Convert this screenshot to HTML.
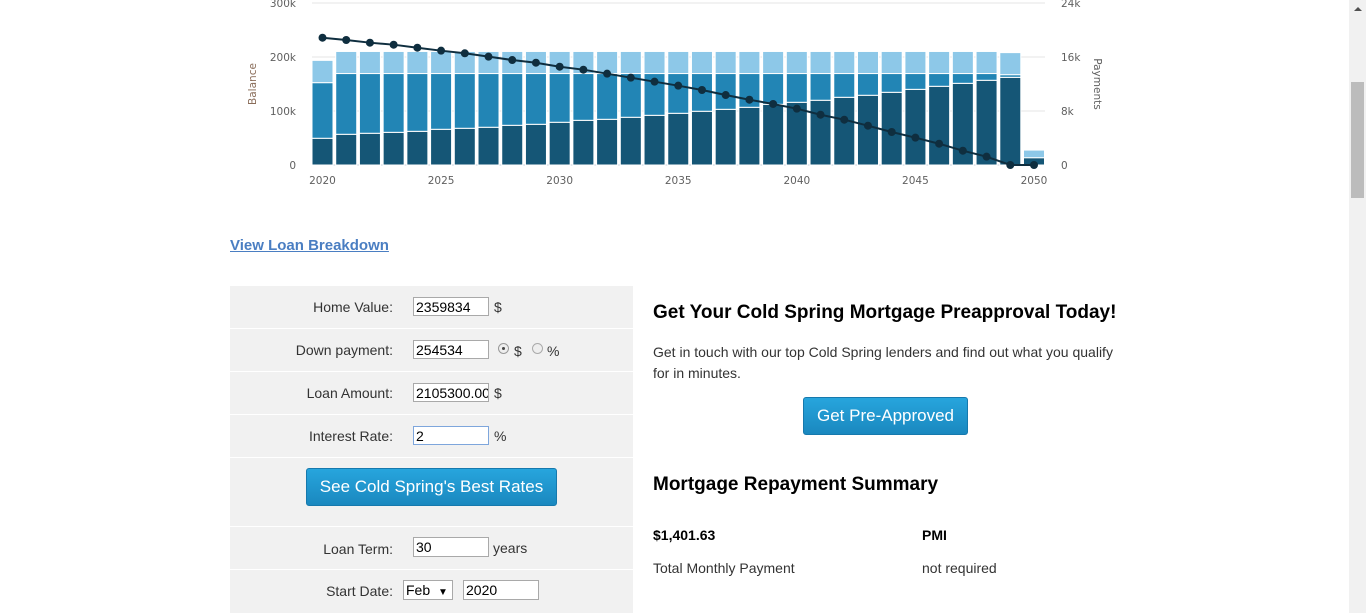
<!DOCTYPE html>
<html><head><meta charset="utf-8"><style>
body{margin:0;width:1366px;height:613px;overflow:hidden;background:#fff;font-family:"Liberation Sans",Arial,sans-serif;position:relative}
.a{position:absolute}
.lbl{position:absolute;right:240px;font-size:14px;color:#333;text-align:right;white-space:nowrap}
.row{position:absolute;left:0;width:403px;background:#f1f1f1}
.inp{position:absolute;height:19px;border:1px solid #a9a9a9;background:#fff;font-size:14px;line-height:19px;padding-left:2px;box-sizing:border-box;color:#000;font-family:"Liberation Sans",sans-serif}
.btn{position:absolute;background:linear-gradient(#27a5dd,#1a88bf);border:1px solid #1679ad;border-radius:3px;color:#fff;font-size:17px;text-align:center;box-sizing:border-box}
.t{font-size:14px;color:#333;position:absolute;white-space:nowrap}
</style></head><body>
<svg class="a" style="left:0;top:0" width="1340" height="200" id="chart"></svg>
<a class="a" style="left:230px;top:237px;font-size:15px;font-weight:bold;color:#4a7ec2;text-decoration:underline" href="#">View Loan Breakdown</a>

<div class="a" style="left:230px;top:286px;width:403px;height:327px;background:#fff">
 <div class="row" style="top:0;height:42px"></div>
 <div class="row" style="top:43px;height:42px"></div>
 <div class="row" style="top:86px;height:42px"></div>
 <div class="row" style="top:129px;height:42px"></div>
 <div class="row" style="top:172px;height:68px"></div>
 <div class="row" style="top:241px;height:42px"></div>
 <div class="row" style="top:284px;height:43px"></div>
 <div class="lbl" style="top:13px">Home Value:</div>
 <div class="inp" style="left:183px;top:11px;width:76px">2359834</div>
 <div class="t" style="left:264px;top:13px">$</div>
 <div class="lbl" style="top:56px">Down payment:</div>
 <div class="inp" style="left:183px;top:54px;width:76px">254534</div>
 <div class="a" style="left:268px;top:57px;width:11px;height:11px;border-radius:50%;border:1px solid #999;box-sizing:border-box;background:#eee"><div class="a" style="left:3px;top:3px;width:3px;height:3px;border-radius:50%;background:#444"></div></div>
 <div class="t" style="left:284px;top:57px">$</div>
 <div class="a" style="left:302px;top:57px;width:11px;height:11px;border-radius:50%;border:1px solid #aaa;box-sizing:border-box;background:#eee"></div>
 <div class="t" style="left:317px;top:57px">%</div>
 <div class="lbl" style="top:99px">Loan Amount:</div>
 <div class="inp" style="left:183px;top:97px;width:76px;overflow:hidden">2105300.00</div>
 <div class="t" style="left:264px;top:99px">$</div>
 <div class="lbl" style="top:142px">Interest Rate:</div>
 <div class="inp" style="left:183px;top:140px;width:76px;border-color:#7ea6dc">2</div>
 <div class="t" style="left:264px;top:142px">%</div>
 <div class="btn" style="left:76px;top:182px;width:251px;height:38px;line-height:36px">See Cold Spring's Best Rates</div>
 <div class="lbl" style="top:255px">Loan Term:</div>
 <div class="inp" style="left:183px;top:251px;width:76px;height:20px">30</div>
 <div class="t" style="left:263px;top:254px">years</div>
 <div class="lbl" style="top:297px">Start Date:</div>
 <div class="inp" style="left:173px;top:294px;width:50px;height:20px">Feb <span style="font-size:10px;margin-left:4px">▼</span></div>
 <div class="inp" style="left:233px;top:294px;width:76px;height:20px">2020</div>
</div>

<div class="a" style="left:653px;top:302px;font-size:19px;font-weight:bold;color:#000;white-space:nowrap">Get Your Cold Spring Mortgage Preapproval Today!</div>
<div class="a" style="left:653px;top:342px;width:470px;font-size:14px;line-height:21px;color:#333">Get in touch with our top Cold Spring lenders and find out what you qualify for in minutes.</div>
<div class="btn" style="left:803px;top:397px;width:165px;height:38px;line-height:36px">Get Pre-Approved</div>
<div class="a" style="left:653px;top:474px;font-size:19px;font-weight:bold;color:#000;white-space:nowrap">Mortgage Repayment Summary</div>
<div class="a" style="left:653px;top:527px;font-size:14px;font-weight:bold;color:#000">$1,401.63</div>
<div class="t" style="left:653px;top:560px">Total Monthly Payment</div>
<div class="a" style="left:922px;top:527px;font-size:14px;font-weight:bold;color:#000">PMI</div>
<div class="t" style="left:922px;top:560px">not required</div>

<div class="a" style="left:1349px;top:0;width:17px;height:613px;background:#f1f1f1">
 <div class="a" style="left:5px;top:7px;width:0;height:0;border-left:4px solid transparent;border-right:4px solid transparent;border-bottom:4px solid #505050"></div>
 <div class="a" style="left:2px;top:82px;width:13px;height:116px;background:#bcbcbc"></div>
</div>

<script>
const years=[2020,2021,2022,2023,2024,2025,2026,2027,2028,2029,2030,2031,2032,2033,2034,2035,2036,2037,2038,2039,2040,2041,2042,2043,2044,2045,2046,2047,2048,2049,2050];
const principal=[3.96,4.55,4.70,4.84,4.99,5.29,5.44,5.59,5.88,6.03,6.33,6.62,6.77,7.07,7.36,7.66,7.96,8.25,8.55,8.99,9.29,9.59,10.03,10.33,10.77,11.21,11.66,12.10,12.55,12.99,1.08];
const interest=[8.24,9.00,8.85,8.71,8.56,8.26,8.11,7.96,7.67,7.52,7.22,6.93,6.78,6.48,6.19,5.89,5.59,5.30,5.00,4.56,4.26,3.96,3.52,3.22,2.78,2.34,1.89,1.45,1.00,0.39,0];
const other=[3.30,3.27,3.27,3.27,3.27,3.27,3.27,3.27,3.27,3.27,3.27,3.27,3.27,3.27,3.27,3.27,3.27,3.27,3.27,3.27,3.27,3.27,3.27,3.27,3.27,3.27,3.27,3.27,3.27,3.27,1.13];
const balance=[235.7,231.5,226.5,222.8,217.2,211.7,206.9,200.6,194.4,189.4,182.0,176.5,169.1,161.7,154.3,146.9,138.9,129.6,120.9,113.0,104.3,93.1,83.9,72.8,61.1,50.6,39.4,26.5,15.4,0,0];
const leftTicks=[0,100,200,300];
const leftTickLabels=["0","100k","200k","300k"];
const rightTicks=[0,8,16,24];
const rightTickLabels=["0","8k","16k","24k"];
const xTicks=[2020,2025,2030,2035,2040,2045,2050];

const svg=document.getElementById('chart');
const NS='http://www.w3.org/2000/svg';
const X=y=>322.5+(y-2020)*(1034-322.5)/30;
const YL=v=>165-v*162/300;
const YR=v=>165-v*162/24;
const FF='DejaVu Sans, sans-serif';
function mk(t,a,txt){const e=document.createElementNS(NS,t);for(const k in a)e.setAttribute(k,a[k]);if(txt!==undefined)e.textContent=txt;svg.appendChild(e);return e;}
leftTicks.forEach((v,i)=>{
 const g=mk('line',{x1:312,x2:1045,y1:YL(v),y2:YL(v),stroke:v===0?'#c8d0dc':'#e6e6e6','stroke-width':1});
 
 
 const t=mk('text',{x:296,y:YL(v)+4,'text-anchor':'end','font-size':10.5,fill:'#606060','font-family':FF},leftTickLabels[i]);
 
 
});
rightTicks.forEach((v,i)=>{
 const t=mk('text',{x:1061,y:YR(v)+4,'font-size':10.5,fill:'#606060','font-family':FF},rightTickLabels[i]);
 
 
});
xTicks.forEach(v=>{
 const t=mk('text',{x:X(v),y:184,'text-anchor':'middle','font-size':10.5,fill:'#606060','font-family':FF},String(v));
 
 
});
const yt=mk('text',{x:256,y:84,transform:'rotate(-90 256 84)','text-anchor':'middle','font-size':10.5,fill:'#8a6d5a','font-family':FF},'Balance');


const yt2=mk('text',{x:1094,y:84,transform:'rotate(90 1094 84)','text-anchor':'middle','font-size':10.5,fill:'#606060','font-family':FF},'Payments');


const bw=21;
years.forEach((yr,i)=>{
 let base=0;
 [[principal[i],'#155676','principal'],[interest[i],'#2285b5','interest'],[other[i],'#8dc8e8','other']].forEach(([v,c,n])=>{
  if(v<=0)return;
  const r=mk('rect',{x:X(yr)-bw/2,y:YR(base+v),width:bw,height:YR(base)-YR(base+v),fill:c,stroke:'#fff','stroke-width':1});
  
  
  base+=v;
 });
});
const pts=years.map((yr,i)=>X(yr)+','+YL(balance[i])).join(' ');
const pl=mk('polyline',{points:pts,fill:'none',stroke:'#0f2e3f','stroke-width':2});


years.forEach((yr,i)=>{
 const c=mk('circle',{cx:X(yr),cy:YL(balance[i]),r:4,fill:'#0f2e3f'});
 
 
});
</script>
</body></html>
